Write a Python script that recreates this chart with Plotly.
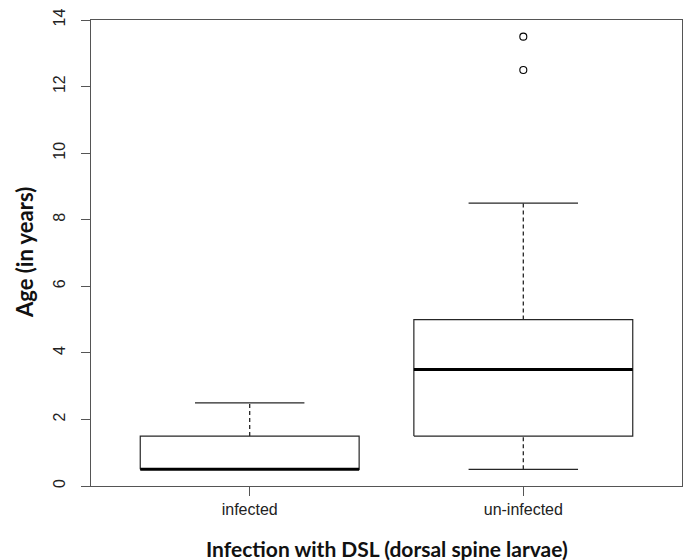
import plotly.graph_objects as go

categories = ["infected", "un-infected"]
positions = [1, 2]
q1 = [0.5, 1.5]
medians = [0.5, 3.5]
q3 = [1.5, 5.0]
whisker_low = [0.5, 0.5]
whisker_high = [2.5, 8.5]
outliers = [[], [12.5, 13.5]]
y_ticks = [0, 2, 4, 6, 8, 10, 12, 14]

BOX_HALF = 0.4
CAP_HALF = 0.2
LINE_COL = "#262626"

fig = go.Figure()
for c, a, m, b, lo, hi, out in zip(positions, q1, medians, q3, whisker_low, whisker_high, outliers):
    # whiskers (dashed)
    fig.add_trace(go.Scatter(x=[c, c, None, c, c], y=[b, hi, None, lo, a], mode="lines",
                             line=dict(color=LINE_COL, width=1.3, dash="4px,3px"),
                             hoverinfo="skip", showlegend=False))
    # caps
    fig.add_trace(go.Scatter(x=[c - CAP_HALF, c + CAP_HALF, None, c - CAP_HALF, c + CAP_HALF],
                             y=[hi, hi, None, lo, lo], mode="lines",
                             line=dict(color=LINE_COL, width=1.2),
                             hoverinfo="skip", showlegend=False))
    # box
    fig.add_trace(go.Scatter(x=[c - BOX_HALF, c + BOX_HALF, c + BOX_HALF, c - BOX_HALF, c - BOX_HALF],
                             y=[a, a, b, b, a], mode="lines",
                             line=dict(color=LINE_COL, width=1.2),
                             fill="toself", fillcolor="white",
                             hoverinfo="skip", showlegend=False))
    # median
    fig.add_trace(go.Scatter(x=[c - BOX_HALF, c + BOX_HALF], y=[m, m], mode="lines",
                             line=dict(color="black", width=3),
                             hoverinfo="skip", showlegend=False))
    if out:
        fig.add_trace(go.Scatter(x=[c] * len(out), y=out, mode="markers",
                                 marker=dict(symbol="circle-open", size=7,
                                             color="black", line=dict(width=1.1)),
                                 hoverinfo="skip", showlegend=False))

fig.update_layout(
    width=687, height=560,
    margin=dict(l=91, r=5, t=20, b=74),
    plot_bgcolor="white", paper_bgcolor="white",
    font=dict(family="Liberation Sans, Arial", color="#222"),
    xaxis=dict(range=[0.42, 2.58], tickmode="array", tickvals=positions, ticktext=categories,
               showgrid=False, zeroline=False, showline=True, mirror=True,
               linecolor="#555", linewidth=1.2, ticks="outside", ticklen=9,
               tickcolor="#555", tickwidth=1.2, tickfont=dict(size=16)),
    yaxis=dict(range=[0, 14], tickmode="array", tickvals=y_ticks,
               ticktext=[str(v) for v in y_ticks], tickangle=-90,
               showgrid=False, zeroline=False, showline=True, mirror=True,
               linecolor="#555", linewidth=1.2, ticks="outside", ticklen=9,
               tickcolor="#555", tickwidth=1.2, tickfont=dict(size=16),
               ticklabelstandoff=10),
    annotations=[
        dict(text="<b>Infection with DSL (dorsal spine larvae)</b>", xref="paper", yref="paper",
             x=0.5, y=0, yshift=-62, xanchor="center", yanchor="middle", showarrow=False,
             font=dict(family="Lato, Open Sans", size=21, color="#111")),
        dict(text="<b>Age (in years)</b>", xref="paper", yref="paper",
             x=0, y=0.5, xshift=-67, xanchor="center", yanchor="middle", textangle=-90,
             showarrow=False, font=dict(family="Lato, Open Sans", size=22, color="#111")),
    ],
)

fig.write_html("out.html")
